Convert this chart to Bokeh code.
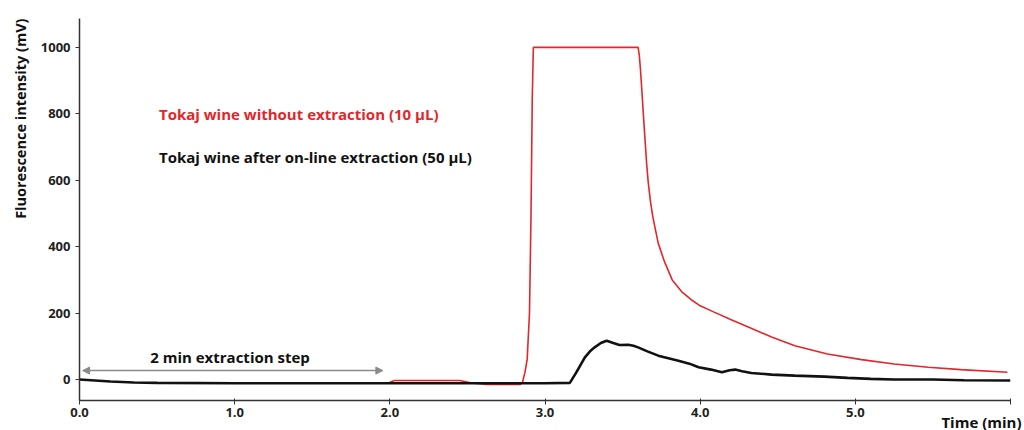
import math
from bokeh.plotting import figure
from bokeh.models import Label, Arrow, NormalHead, FixedTicker, Range1d, Title
from bokeh.embed import file_html
from bokeh.resources import INLINE

# ---- data ----
red_t = [2.00, 2.03, 2.45, 2.52, 2.56, 2.62, 2.84, 2.855, 2.87, 2.885, 2.90, 2.91, 2.918, 2.925,
         3.60, 3.608, 3.615, 3.625, 3.635, 3.645, 3.655, 3.665, 3.68, 3.695, 3.71, 3.73,
         3.77, 3.82, 3.88, 3.95, 4.00, 4.09,
         4.20, 4.31, 4.46, 4.61, 4.82, 5.04, 5.25, 5.47, 5.68, 5.98]
red_v = [-8, -3, -3, -10, -12, -15, -15, -8, 20, 60, 200, 500, 850, 1000,
         1000, 975, 935, 865, 790, 720, 650, 595, 535, 490, 455, 410,
         355, 300, 265, 238, 222, 203,
         180, 158, 128, 102, 77, 60, 47, 37, 30, 22]

black_t = [0.0, 0.1, 0.2, 0.35, 0.5, 1.0, 2.0, 3.0, 3.16, 3.20, 3.257, 3.29, 3.32, 3.36, 3.397,
           3.44, 3.48, 3.536, 3.57, 3.60, 3.66, 3.73, 3.86, 3.93, 3.99, 4.07, 4.14, 4.19,
           4.226, 4.27, 4.33, 4.46, 4.61, 4.80, 4.95, 5.10, 5.25, 5.50, 5.70, 6.00]
black_v = [0, -3, -6, -9, -10, -11, -11, -11, -10, 20, 67, 85, 97, 110, 117,
           110, 104, 105, 102, 97, 85, 72, 57, 48, 37, 30, 22, 28,
           30, 25, 20, 15, 12, 9, 5, 2, 0, 0, -2, -3]

x_ticks = [0, 1, 2, 3, 4, 5, 6]
x_tick_labels = {0: "0.0", 1: "1.0", 2: "2.0", 3: "3.0", 4: "4.0", 5: "5.0", 6: ""}
y_ticks = [0, 200, 400, 600, 800, 1000]

label_red = "Tokaj wine without extraction (10 µL)"
label_black = "Tokaj wine after on-line extraction (50 µL)"
step_text = "2 min extraction step"
x_title = "Time (min)"
y_title = "Fluorescence intensity (mV)"

FONT = "Open Sans"
RED = "#e3262b"

p = figure(width=1024, height=430, output_backend="svg", toolbar_location=None,
           x_range=Range1d(0, 6), y_range=Range1d(-63, 1087),
           min_border_left=78, min_border_right=14, min_border_top=18, min_border_bottom=30)
p.outline_line_color = None
p.grid.visible = False
p.background_fill_color = "white"

p.line(red_t, red_v, line_color=RED, line_width=1.6)
p.line(black_t, black_v, line_color="#111111", line_width=2.6)

for ax in (p.xaxis[0], p.yaxis[0]):
    ax.axis_line_color = "#333333"
    ax.axis_line_width = 1.5
    ax.major_tick_line_color = "#333333"
    ax.minor_tick_line_color = None
    ax.major_label_text_font = FONT
    ax.major_label_text_font_style = "bold"
    ax.major_label_text_font_size = "13px"
    ax.major_label_text_color = "#222222"

p.xaxis.ticker = FixedTicker(ticks=x_ticks)
p.xaxis.major_label_overrides = x_tick_labels
p.xaxis.major_tick_in = 2
p.xaxis.major_tick_out = 4
p.xaxis.major_label_standoff = 3

p.yaxis.ticker = FixedTicker(ticks=y_ticks)
p.yaxis.major_tick_in = 0
p.yaxis.major_tick_out = 4
p.yaxis.major_label_standoff = 5

# annotations
p.add_layout(Label(x=0.512, y=801, text=label_red, text_color=RED, text_font=FONT,
                   text_font_style="bold", text_font_size="15px", text_baseline="middle"))
p.add_layout(Label(x=0.512, y=669, text=label_black, text_color="#111111", text_font=FONT,
                   text_font_style="bold", text_font_size="15px", text_baseline="middle"))
p.add_layout(Label(x=0.97, y=67, text=step_text, text_color="#111111", text_font=FONT,
                   text_font_style="bold", text_font_size="15px", text_baseline="middle",
                   text_align="center"))
p.add_layout(Arrow(x_start=0.02, y_start=27, x_end=1.955, y_end=27, line_color="#8a8a8a",
                   line_width=1.5,
                   start=NormalHead(size=7, fill_color="#8a8a8a", line_color="#8a8a8a"),
                   end=NormalHead(size=7, fill_color="#8a8a8a", line_color="#8a8a8a")))

# axis titles as side titles
p.add_layout(Title(text=y_title, align="right", text_font=FONT, text_font_style="bold",
                   text_font_size="14.5px", text_color="#111111", standoff=16), "left")
p.add_layout(Title(text=x_title, align="right", offset=-11, standoff=-20, text_font=FONT,
                   text_font_style="bold", text_font_size="15px", text_color="#111111"),
             "below")

open("out.html", "w").write(file_html(p, INLINE))
